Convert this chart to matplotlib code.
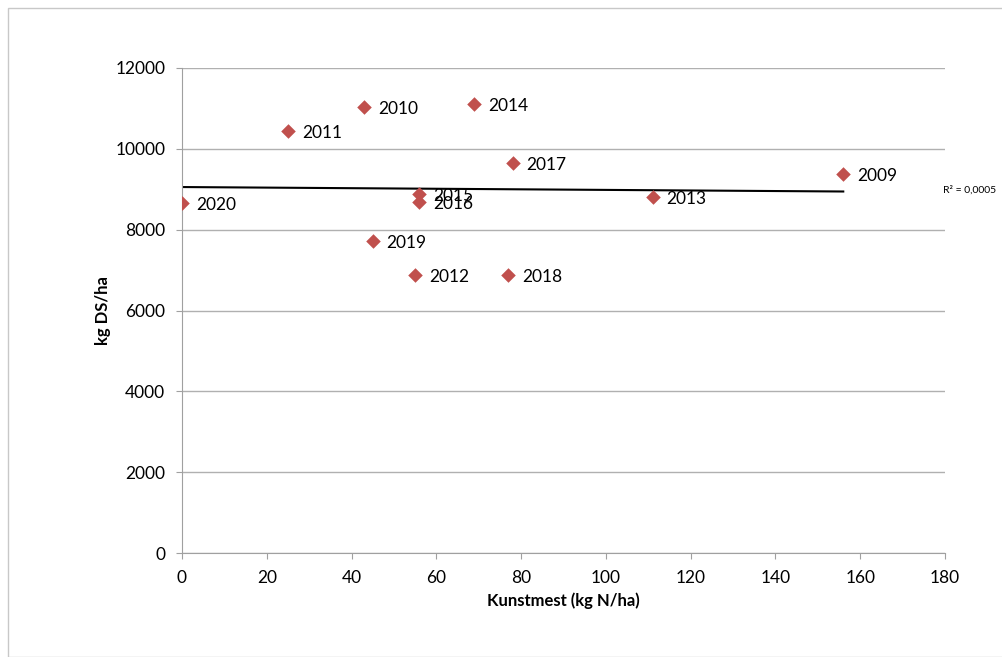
import numpy as np
import matplotlib
matplotlib.use("Agg")
import matplotlib.pyplot as plt
from matplotlib.patches import Rectangle

plt.rcParams['font.family'] = ['Lato', 'DejaVu Sans']

years = ["2020", "2011", "2010", "2014", "2017", "2009", "2015", "2016", "2013", "2019", "2012", "2018"]
n_fert = [0, 25, 43, 69, 78, 156, 56, 56, 111, 45, 55, 77]
yield_ds = [8670, 10440, 11030, 11100, 9650, 9380, 8880, 8690, 8810, 7710, 6870, 6880]

xticks = [0, 20, 40, 60, 80, 100, 120, 140, 160, 180]
yticks = [0, 2000, 4000, 6000, 8000, 10000, 12000]

fig = plt.figure(figsize=(10.03, 6.57), dpi=100)
fig.patches.append(Rectangle((8/1003, 0), 1 - 8/1003, 1 - 8/657, transform=fig.transFigure,
                             fill=False, edgecolor='#c8c8c8', linewidth=1.0))
ax = fig.add_axes([182/1003, 1 - 553/657, (945 - 182)/1003, (553 - 68)/657])

x = np.array(n_fert, dtype=float)
y = np.array(yield_ds, dtype=float)
coef = np.polyfit(x, y, 1)
xl = np.array([x.min(), x.max()])
ax.plot(xl, np.polyval(coef, xl), color='black', linewidth=1.5, zorder=2)

ax.scatter(x, y, marker='D', s=55, color='#C0504D', zorder=3, linewidths=0)
for xi, yi, lab in zip(x, y, years):
    ax.annotate(lab, (xi, yi), xytext=(10, -1.5), textcoords='offset points',
                fontsize=12.5, va='center', ha='left', color='black')

ax.set_xlim(0, 180)
ax.set_ylim(0, 12000)
ax.set_xticks(xticks)
ax.set_yticks(yticks)
ax.tick_params(axis='both', labelsize=12.5, colors='#a0a0a0', labelcolor='black', length=4)
ax.tick_params(axis='x', pad=8)
ax.tick_params(axis='y', pad=8)
ax.yaxis.grid(True, color='#b0b0b0', linewidth=1.0)
ax.set_axisbelow(True)
for s in ['top', 'right']:
    ax.spines[s].set_visible(False)
for s in ['left', 'bottom']:
    ax.spines[s].set_color('#a0a0a0')

ax.set_xlabel("Kunstmest (kg N/ha)", fontsize=12, fontweight='bold', labelpad=5)
ax.set_ylabel("kg DS/ha", fontsize=12, fontweight='bold', labelpad=3)

fig.text(943/1003, 1 - 190/657, "R² = 0,0005", fontsize=7.5, va='center', ha='left')

fig.savefig("out.png", dpi=100)
